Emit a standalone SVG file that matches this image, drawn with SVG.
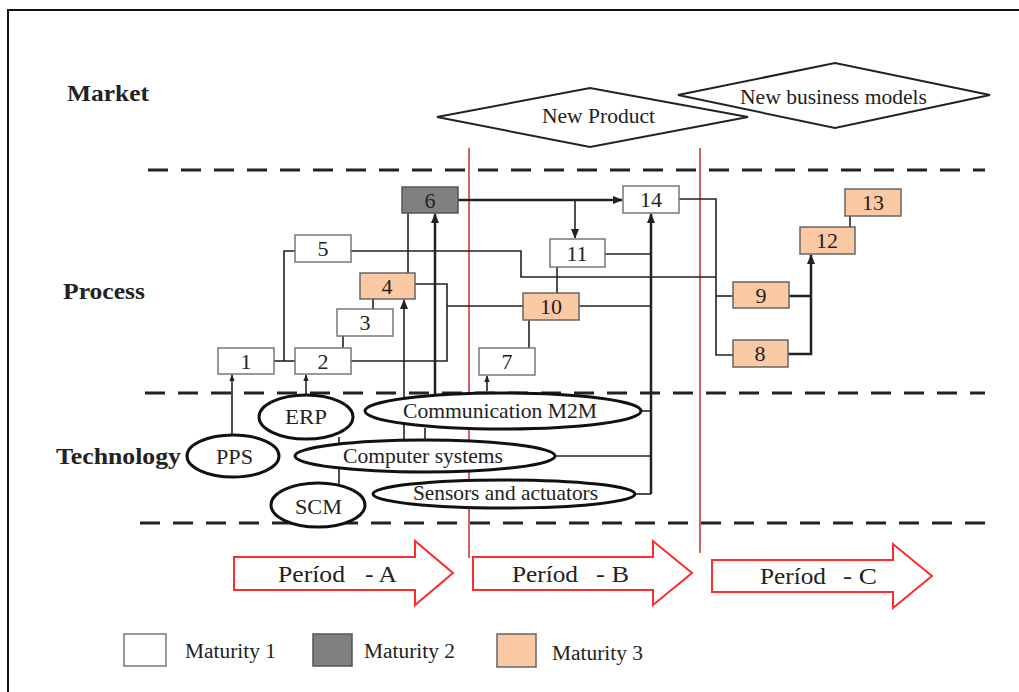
<svg xmlns="http://www.w3.org/2000/svg" width="1019" height="692" viewBox="0 0 1019 692">
<style>
text{font-family:"Liberation Serif","Times New Roman",serif;fill:#222;}
.lbl{font-size:24px;font-weight:bold;}
.num{font-size:22px;text-anchor:middle;}
.ell{font-size:21px;}
.box{stroke:#777;stroke-width:1.5;}
.m1{fill:#fff;}
.m2{fill:#808080;stroke:#555;}
.m3{fill:#FBC9A3;stroke:#666;}
.c{fill:none;stroke:#222;stroke-width:1.6;}
.ct{fill:none;stroke:#222;stroke-width:2.5;}
.e{fill:#fff;stroke:#111;stroke-width:3;}
.dash{stroke:#222;stroke-width:3;stroke-dasharray:20 13;}
.red{stroke:#C83A3A;stroke-width:1.6;}
.per{fill:#fff;stroke:#FF2A2A;stroke-width:2;}
.per-t{font-size:23px;}
.dia{fill:#fff;stroke:#222;stroke-width:2;}
.leg{font-size:20px;}
</style>
<defs>
<marker id="ah" markerUnits="userSpaceOnUse" markerWidth="10" markerHeight="10" viewBox="0 0 10 10" refX="9" refY="5" orient="auto"><path d="M0,1 L10,5 L0,9 z" fill="#222"/></marker>
<marker id="as" markerUnits="userSpaceOnUse" markerWidth="7" markerHeight="7" viewBox="0 0 10 10" refX="9" refY="5" orient="auto"><path d="M0,1 L10,5 L0,9 z" fill="#222"/></marker>
</defs>
<rect width="1019" height="692" fill="#fff"/>
<path d="M8,692 V10 H1019" fill="none" stroke="#111" stroke-width="2"/>

<g id="labels">
<text class="lbl" x="67" y="101" textLength="82" lengthAdjust="spacingAndGlyphs">Market</text>
<text class="lbl" x="63" y="299" textLength="82" lengthAdjust="spacingAndGlyphs">Process</text>
<text class="lbl" x="56" y="464" textLength="125" lengthAdjust="spacingAndGlyphs">Technology</text>
</g>

<g id="lanes">
<line class="dash" x1="148" y1="170" x2="985" y2="170"/>
<line class="dash" x1="145" y1="393" x2="985" y2="393"/>
<line class="dash" x1="140" y1="523" x2="985" y2="523"/>
<line class="red" x1="469" y1="148" x2="469" y2="558"/>
<line class="red" x1="700" y1="148" x2="700" y2="553"/>
</g>

<g id="market-new-product">
<polygon class="dia" points="437,117 590,88 748,117 590,147"/>
<text x="542" y="123" font-size="20" textLength="113" lengthAdjust="spacingAndGlyphs">New Product</text>
</g>
<g id="market-new-business-models">
<polygon class="dia" points="678,95 835,63 990,95 835,128"/>
<text x="740" y="104" font-size="20" textLength="187" lengthAdjust="spacingAndGlyphs">New business models</text>
</g>

<g id="connectors">
<path class="c" d="M274,361 H295"/>
<path class="c" d="M284,361 V251 H295"/>
<path class="c" d="M351,251 H521 V277 H716"/>
<path class="c" d="M679,199 H716 V355 H733"/>
<path class="c" d="M716,296 H733"/>
<path class="c" d="M343,336 V348"/>
<path class="c" d="M373,299 V309"/>
<path class="c" d="M408,273 V213"/>
<path class="c" d="M415,284 H447 V361 H351"/>
<path class="c" d="M447,306 H523"/>
<path class="c" d="M557,267 V293"/>
<path class="c" d="M529,320 V348"/>
<path class="c" d="M579,306 H651"/>
<path class="c" d="M605,254 H651"/>
<path class="ct" d="M458,200 H622" marker-end="url(#ah)"/>
<path class="c" d="M575,200 V238" marker-end="url(#ah)"/>
<path class="ct" d="M651,494 V214" marker-end="url(#ah)"/>
<path class="c" d="M642,411 H651"/>
<path class="c" d="M555,456 H651"/>
<path class="c" d="M635,494 H651"/>
<path class="ct" d="M789,296 H811"/>
<path class="ct" d="M788,354 H811 V255" marker-end="url(#ah)"/>
<path class="c" d="M850,216 V227"/>
<path class="c" d="M232,436 V375" marker-end="url(#as)"/>
<path class="c" d="M306,396 V375" marker-end="url(#as)"/>
<path class="c" d="M487,391 V376" marker-end="url(#as)"/>
<path class="c" d="M404,441 V300" marker-end="url(#ah)"/>
<path class="ct" d="M435,394 V214" marker-end="url(#ah)"/>
<path class="c" d="M425,441 V428"/>
<path class="c" d="M339,437 V484"/>
</g>

<g id="n1"><rect class="box m1" x="218" y="348" width="56" height="26"/><text class="num" x="246" y="369">1</text></g>
<g id="n2"><rect class="box m1" x="295" y="348" width="56" height="26"/><text class="num" x="323" y="369">2</text></g>
<g id="n3"><rect class="box m1" x="337" y="309" width="56" height="27"/><text class="num" x="365" y="330">3</text></g>
<g id="n4"><rect class="box m3" x="360" y="273" width="55" height="26"/><text class="num" x="387" y="294">4</text></g>
<g id="n5"><rect class="box m1" x="295" y="235" width="56" height="27"/><text class="num" x="323" y="256">5</text></g>
<g id="n6"><rect class="box m2" x="402" y="187" width="56" height="26"/><text class="num" x="430" y="208">6</text></g>
<g id="n7"><rect class="box m1" x="479" y="348" width="56" height="27"/><text class="num" x="507" y="369">7</text></g>
<g id="n8"><rect class="box m3" x="733" y="340" width="55" height="27"/><text class="num" x="760" y="361">8</text></g>
<g id="n9"><rect class="box m3" x="733" y="282" width="56" height="26"/><text class="num" x="761" y="303">9</text></g>
<g id="n10"><rect class="box m3" x="523" y="293" width="56" height="27"/><text class="num" x="551" y="314">10</text></g>
<g id="n11"><rect class="box m1" x="550" y="239" width="55" height="28"/><text class="num" x="577" y="261">11</text></g>
<g id="n12"><rect class="box m3" x="800" y="227" width="55" height="27"/><text class="num" x="827" y="248">12</text></g>
<g id="n13"><rect class="box m3" x="845" y="189" width="56" height="27"/><text class="num" x="873" y="210">13</text></g>
<g id="n14"><rect class="box m1" x="623" y="186" width="56" height="27"/><text class="num" x="651" y="207">14</text></g>

<g id="erp"><ellipse class="e" cx="306" cy="417" rx="47" ry="22"/><text class="ell" x="285" y="424" textLength="42" lengthAdjust="spacingAndGlyphs">ERP</text></g>
<g id="pps"><ellipse class="e" cx="233" cy="456" rx="46" ry="21"/><text class="ell" x="216" y="464" textLength="37" lengthAdjust="spacingAndGlyphs">PPS</text></g>
<g id="scm"><ellipse class="e" cx="318" cy="505" rx="47" ry="22"/><text class="ell" x="295" y="514" textLength="47" lengthAdjust="spacingAndGlyphs">SCM</text></g>
<g id="m2m"><ellipse class="e" cx="503" cy="411" rx="138" ry="18"/><text class="ell" x="403" y="418" textLength="194" lengthAdjust="spacingAndGlyphs">Communication M2M</text></g>
<g id="computer"><ellipse class="e" cx="425" cy="456" rx="130" ry="16"/><text class="ell" x="343" y="463" textLength="160" lengthAdjust="spacingAndGlyphs">Computer systems</text></g>
<g id="sensors"><ellipse class="e" cx="504" cy="494" rx="131" ry="14"/><text class="ell" x="413" y="500" font-size="20" textLength="185" lengthAdjust="spacingAndGlyphs">Sensors and actuators</text></g>

<g id="period-a"><polygon class="per" points="234,557 415,557 415,541 453,573 415,605 415,590 234,590"/><text class="per-t" x="278" y="582" textLength="67" lengthAdjust="spacingAndGlyphs">Períod</text><text class="per-t" x="365" y="582" textLength="32" lengthAdjust="spacingAndGlyphs">- A</text></g>
<g id="period-b"><polygon class="per" points="473,557 653,557 653,541 692,573 653,605 653,590 473,590"/><text class="per-t" x="512" y="582" textLength="66" lengthAdjust="spacingAndGlyphs">Períod</text><text class="per-t" x="596" y="582" textLength="33" lengthAdjust="spacingAndGlyphs">- B</text></g>
<g id="period-c"><polygon class="per" points="712,560 893,560 893,544 932,576 893,608 893,592 712,592"/><text class="per-t" x="760" y="584" textLength="66" lengthAdjust="spacingAndGlyphs">Períod</text><text class="per-t" x="843" y="584" textLength="34" lengthAdjust="spacingAndGlyphs">- C</text></g>

<g id="legend">
<rect class="box m1" x="124" y="634" width="42" height="32"/><text class="leg" x="185" y="658" textLength="91" lengthAdjust="spacingAndGlyphs">Maturity 1</text>
<rect class="box m2" x="313" y="634" width="39" height="32"/><text class="leg" x="364" y="658" textLength="91" lengthAdjust="spacingAndGlyphs">Maturity 2</text>
<rect class="box m3" x="497" y="634" width="39" height="33"/><text class="leg" x="552" y="660" textLength="91" lengthAdjust="spacingAndGlyphs">Maturity 3</text>
</g>
</svg>
